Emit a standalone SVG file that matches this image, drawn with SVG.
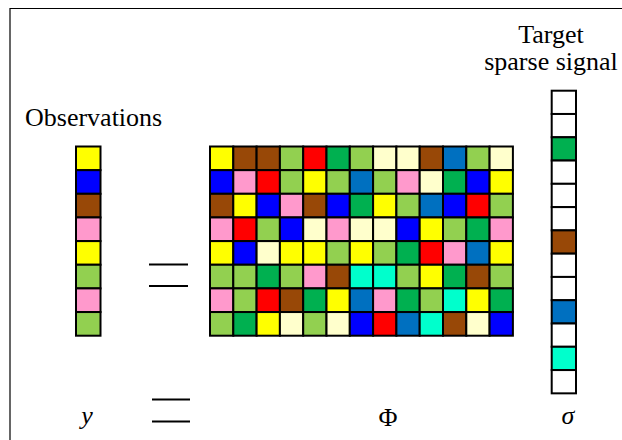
<svg xmlns="http://www.w3.org/2000/svg" width="622" height="440" viewBox="0 0 622 440">
<style>
.k{stroke:#000;stroke-width:2}
.Y{fill:#FFFF00}.Br{fill:#984807}.LG{fill:#92D050}.R{fill:#FF0000}.G{fill:#00B050}
.C{fill:#FFFFCC}.Bl{fill:#0000FF}.DB{fill:#0070C0}.P{fill:#FF99CC}.T{fill:#00FFCC}.W{fill:#FFFFFF}
.t{font-family:"Liberation Serif","Times New Roman",serif;font-size:26px;fill:#000}
.eq{stroke:#000;stroke-width:2}
</style>
<rect width="622" height="440" fill="#fff"/>
<path d="M10,440 V8.5 H622" fill="none" stroke="#000" stroke-width="1.2"/>
<g id="connectors"/>
<g id="observations-label"><text class="t" x="25" y="126">Observations</text></g>
<g id="target-label"><text class="t" text-anchor="middle" x="551" y="43">Target</text><text class="t" text-anchor="middle" x="551" y="70">sparse signal</text></g>
<g id="y-vector">
<rect class="k Y" x="76" y="146.5" width="24.5" height="23.65"/>
<rect class="k Bl" x="76" y="170.15" width="24.5" height="23.65"/>
<rect class="k Br" x="76" y="193.8" width="24.5" height="23.65"/>
<rect class="k P" x="76" y="217.45" width="24.5" height="23.65"/>
<rect class="k Y" x="76" y="241.1" width="24.5" height="23.65"/>
<rect class="k LG" x="76" y="264.75" width="24.5" height="23.65"/>
<rect class="k P" x="76" y="288.4" width="24.5" height="23.65"/>
<rect class="k LG" x="76" y="312.05" width="24.5" height="23.65"/>
</g>
<g id="equals-mid"><line class="eq" x1="149" y1="264.5" x2="188" y2="264.5"/><line class="eq" x1="149" y1="286" x2="188" y2="286"/></g>
<g id="phi-matrix">
<rect class="k Y" x="210" y="146.5" width="23.3" height="23.65"/><rect class="k Br" x="233.3" y="146.5" width="23.3" height="23.65"/><rect class="k Br" x="256.6" y="146.5" width="23.3" height="23.65"/><rect class="k LG" x="279.9" y="146.5" width="23.3" height="23.65"/><rect class="k R" x="303.2" y="146.5" width="23.3" height="23.65"/><rect class="k G" x="326.5" y="146.5" width="23.3" height="23.65"/><rect class="k LG" x="349.8" y="146.5" width="23.3" height="23.65"/><rect class="k C" x="373.1" y="146.5" width="23.3" height="23.65"/><rect class="k C" x="396.4" y="146.5" width="23.3" height="23.65"/><rect class="k Br" x="419.7" y="146.5" width="23.3" height="23.65"/><rect class="k DB" x="443" y="146.5" width="23.3" height="23.65"/><rect class="k LG" x="466.3" y="146.5" width="23.3" height="23.65"/><rect class="k C" x="489.6" y="146.5" width="23.3" height="23.65"/>
<rect class="k Bl" x="210" y="170.15" width="23.3" height="23.65"/><rect class="k P" x="233.3" y="170.15" width="23.3" height="23.65"/><rect class="k R" x="256.6" y="170.15" width="23.3" height="23.65"/><rect class="k LG" x="279.9" y="170.15" width="23.3" height="23.65"/><rect class="k Y" x="303.2" y="170.15" width="23.3" height="23.65"/><rect class="k LG" x="326.5" y="170.15" width="23.3" height="23.65"/><rect class="k DB" x="349.8" y="170.15" width="23.3" height="23.65"/><rect class="k LG" x="373.1" y="170.15" width="23.3" height="23.65"/><rect class="k P" x="396.4" y="170.15" width="23.3" height="23.65"/><rect class="k C" x="419.7" y="170.15" width="23.3" height="23.65"/><rect class="k G" x="443" y="170.15" width="23.3" height="23.65"/><rect class="k Bl" x="466.3" y="170.15" width="23.3" height="23.65"/><rect class="k Y" x="489.6" y="170.15" width="23.3" height="23.65"/>
<rect class="k Br" x="210" y="193.8" width="23.3" height="23.65"/><rect class="k Y" x="233.3" y="193.8" width="23.3" height="23.65"/><rect class="k Bl" x="256.6" y="193.8" width="23.3" height="23.65"/><rect class="k P" x="279.9" y="193.8" width="23.3" height="23.65"/><rect class="k Br" x="303.2" y="193.8" width="23.3" height="23.65"/><rect class="k Bl" x="326.5" y="193.8" width="23.3" height="23.65"/><rect class="k G" x="349.8" y="193.8" width="23.3" height="23.65"/><rect class="k Y" x="373.1" y="193.8" width="23.3" height="23.65"/><rect class="k LG" x="396.4" y="193.8" width="23.3" height="23.65"/><rect class="k DB" x="419.7" y="193.8" width="23.3" height="23.65"/><rect class="k Bl" x="443" y="193.8" width="23.3" height="23.65"/><rect class="k R" x="466.3" y="193.8" width="23.3" height="23.65"/><rect class="k LG" x="489.6" y="193.8" width="23.3" height="23.65"/>
<rect class="k P" x="210" y="217.45" width="23.3" height="23.65"/><rect class="k R" x="233.3" y="217.45" width="23.3" height="23.65"/><rect class="k LG" x="256.6" y="217.45" width="23.3" height="23.65"/><rect class="k Bl" x="279.9" y="217.45" width="23.3" height="23.65"/><rect class="k C" x="303.2" y="217.45" width="23.3" height="23.65"/><rect class="k P" x="326.5" y="217.45" width="23.3" height="23.65"/><rect class="k C" x="349.8" y="217.45" width="23.3" height="23.65"/><rect class="k C" x="373.1" y="217.45" width="23.3" height="23.65"/><rect class="k Bl" x="396.4" y="217.45" width="23.3" height="23.65"/><rect class="k Y" x="419.7" y="217.45" width="23.3" height="23.65"/><rect class="k LG" x="443" y="217.45" width="23.3" height="23.65"/><rect class="k G" x="466.3" y="217.45" width="23.3" height="23.65"/><rect class="k P" x="489.6" y="217.45" width="23.3" height="23.65"/>
<rect class="k Y" x="210" y="241.1" width="23.3" height="23.65"/><rect class="k Bl" x="233.3" y="241.1" width="23.3" height="23.65"/><rect class="k C" x="256.6" y="241.1" width="23.3" height="23.65"/><rect class="k Y" x="279.9" y="241.1" width="23.3" height="23.65"/><rect class="k Y" x="303.2" y="241.1" width="23.3" height="23.65"/><rect class="k LG" x="326.5" y="241.1" width="23.3" height="23.65"/><rect class="k Y" x="349.8" y="241.1" width="23.3" height="23.65"/><rect class="k LG" x="373.1" y="241.1" width="23.3" height="23.65"/><rect class="k G" x="396.4" y="241.1" width="23.3" height="23.65"/><rect class="k R" x="419.7" y="241.1" width="23.3" height="23.65"/><rect class="k P" x="443" y="241.1" width="23.3" height="23.65"/><rect class="k DB" x="466.3" y="241.1" width="23.3" height="23.65"/><rect class="k Y" x="489.6" y="241.1" width="23.3" height="23.65"/>
<rect class="k LG" x="210" y="264.75" width="23.3" height="23.65"/><rect class="k LG" x="233.3" y="264.75" width="23.3" height="23.65"/><rect class="k G" x="256.6" y="264.75" width="23.3" height="23.65"/><rect class="k LG" x="279.9" y="264.75" width="23.3" height="23.65"/><rect class="k P" x="303.2" y="264.75" width="23.3" height="23.65"/><rect class="k Br" x="326.5" y="264.75" width="23.3" height="23.65"/><rect class="k T" x="349.8" y="264.75" width="23.3" height="23.65"/><rect class="k T" x="373.1" y="264.75" width="23.3" height="23.65"/><rect class="k LG" x="396.4" y="264.75" width="23.3" height="23.65"/><rect class="k Y" x="419.7" y="264.75" width="23.3" height="23.65"/><rect class="k G" x="443" y="264.75" width="23.3" height="23.65"/><rect class="k Br" x="466.3" y="264.75" width="23.3" height="23.65"/><rect class="k LG" x="489.6" y="264.75" width="23.3" height="23.65"/>
<rect class="k P" x="210" y="288.4" width="23.3" height="23.65"/><rect class="k LG" x="233.3" y="288.4" width="23.3" height="23.65"/><rect class="k R" x="256.6" y="288.4" width="23.3" height="23.65"/><rect class="k Br" x="279.9" y="288.4" width="23.3" height="23.65"/><rect class="k G" x="303.2" y="288.4" width="23.3" height="23.65"/><rect class="k Y" x="326.5" y="288.4" width="23.3" height="23.65"/><rect class="k DB" x="349.8" y="288.4" width="23.3" height="23.65"/><rect class="k P" x="373.1" y="288.4" width="23.3" height="23.65"/><rect class="k G" x="396.4" y="288.4" width="23.3" height="23.65"/><rect class="k LG" x="419.7" y="288.4" width="23.3" height="23.65"/><rect class="k T" x="443" y="288.4" width="23.3" height="23.65"/><rect class="k Y" x="466.3" y="288.4" width="23.3" height="23.65"/><rect class="k G" x="489.6" y="288.4" width="23.3" height="23.65"/>
<rect class="k LG" x="210" y="312.05" width="23.3" height="23.65"/><rect class="k G" x="233.3" y="312.05" width="23.3" height="23.65"/><rect class="k Y" x="256.6" y="312.05" width="23.3" height="23.65"/><rect class="k C" x="279.9" y="312.05" width="23.3" height="23.65"/><rect class="k LG" x="303.2" y="312.05" width="23.3" height="23.65"/><rect class="k C" x="326.5" y="312.05" width="23.3" height="23.65"/><rect class="k Bl" x="349.8" y="312.05" width="23.3" height="23.65"/><rect class="k R" x="373.1" y="312.05" width="23.3" height="23.65"/><rect class="k DB" x="396.4" y="312.05" width="23.3" height="23.65"/><rect class="k T" x="419.7" y="312.05" width="23.3" height="23.65"/><rect class="k Br" x="443" y="312.05" width="23.3" height="23.65"/><rect class="k C" x="466.3" y="312.05" width="23.3" height="23.65"/><rect class="k Bl" x="489.6" y="312.05" width="23.3" height="23.65"/>
</g>
<g id="sigma-vector">
<rect class="k W" x="551.7" y="90.7" width="24.3" height="23.28"/>
<rect class="k W" x="551.7" y="113.98" width="24.3" height="23.28"/>
<rect class="k G" x="551.7" y="137.26" width="24.3" height="23.28"/>
<rect class="k W" x="551.7" y="160.54" width="24.3" height="23.28"/>
<rect class="k W" x="551.7" y="183.82" width="24.3" height="23.28"/>
<rect class="k W" x="551.7" y="207.1" width="24.3" height="23.28"/>
<rect class="k Br" x="551.7" y="230.38" width="24.3" height="23.28"/>
<rect class="k W" x="551.7" y="253.66" width="24.3" height="23.28"/>
<rect class="k W" x="551.7" y="276.94" width="24.3" height="23.28"/>
<rect class="k DB" x="551.7" y="300.22" width="24.3" height="23.28"/>
<rect class="k W" x="551.7" y="323.5" width="24.3" height="23.28"/>
<rect class="k T" x="551.7" y="346.78" width="24.3" height="23.28"/>
<rect class="k W" x="551.7" y="370.06" width="24.3" height="23.28"/>
</g>
<g id="y-label"><text class="t" font-style="italic" text-anchor="middle" x="87" y="424">y</text></g>
<g id="equals-bottom"><line class="eq" x1="152" y1="399.5" x2="190" y2="399.5"/><line class="eq" x1="152" y1="421.5" x2="190" y2="421.5"/></g>
<g id="phi-label"><text class="t" text-anchor="middle" x="388" y="426">Φ</text></g>
<g id="sigma-label"><text class="t" font-style="italic" text-anchor="middle" x="568" y="424">σ</text></g>
</svg>
